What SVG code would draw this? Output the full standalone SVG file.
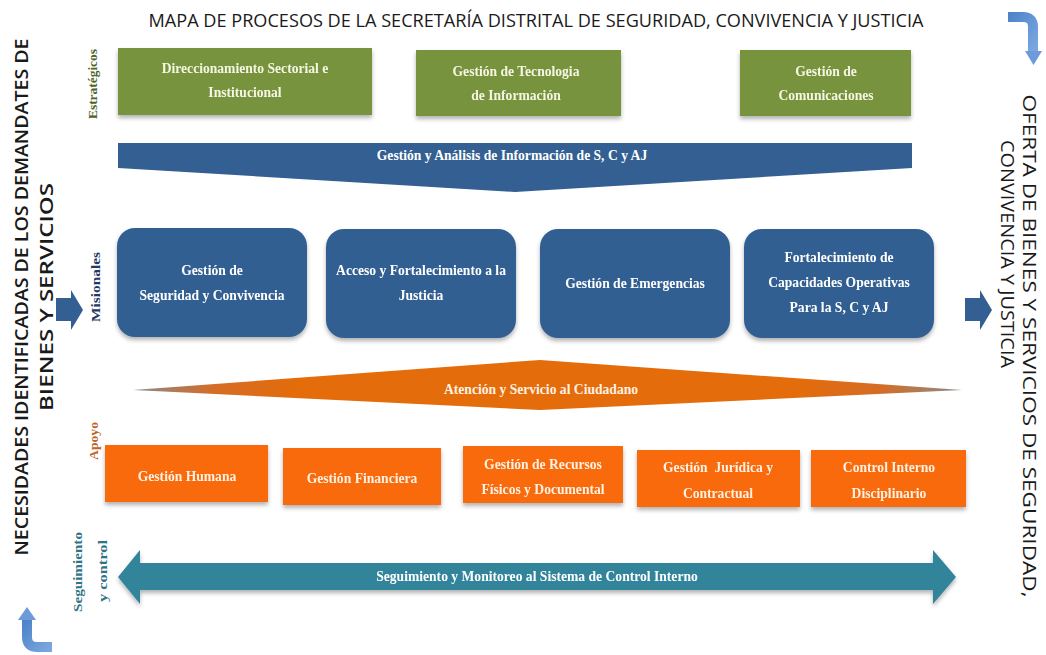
<svg xmlns="http://www.w3.org/2000/svg" width="1046" height="655" viewBox="0 0 1046 655">
  <style>
    .side { font-family: "Open Sans", "Liberation Sans", sans-serif; font-size: 18px; fill: #1a1a1a; }
    .title { font-family: "Open Sans", "Liberation Sans", sans-serif; font-size: 19px; fill: #1a1a1a; }
    .lbl { font-family: "Liberation Serif", serif; font-size: 12px; font-weight: bold; text-anchor: middle; }
    .bx { font-family: "Liberation Serif", serif; font-size: 13.6px; font-weight: bold; text-anchor: middle; }
    .w { fill: #ffffff; }
    .g { fill: #f6f6e4; }
    .o { fill: #fff1e2; }
    .green { fill: #77933c; }
    .blue { fill: #335f92; }
    .orange { fill: #f96b0f; }
    .teal { fill: #31849b; }
    .bend { fill: none; stroke: url(#bendGrad); stroke-width: 10; }
  </style>
  <defs>
    <filter id="shadow" x="-10%" y="-20%" width="120%" height="150%">
      <feDropShadow dx="0" dy="3" stdDeviation="2" flood-color="#000" flood-opacity="0.3"/>
    </filter>
    <linearGradient id="diamondGrad" x1="0" y1="0" x2="1" y2="0">
      <stop offset="0" stop-color="#8a8a8a"/>
      <stop offset="0.1" stop-color="#d56c24"/>
      <stop offset="0.2" stop-color="#e46c0a"/>
      <stop offset="0.8" stop-color="#e46c0a"/>
      <stop offset="0.9" stop-color="#d56c24"/>
      <stop offset="1" stop-color="#8a8a8a"/>
    </linearGradient>
    <linearGradient id="bendGrad" x1="0" y1="0" x2="1" y2="1">
      <stop offset="0" stop-color="#4f83c8"/>
      <stop offset="1" stop-color="#7aa7e0"/>
    </linearGradient>
  </defs>

  <!-- heading -->
  <text class="title" x="536" y="27" text-anchor="middle" textLength="775" lengthAdjust="spacingAndGlyphs">MAPA DE PROCESOS DE LA SECRETARÍA DISTRITAL DE SEGURIDAD, CONVIVENCIA Y JUSTICIA</text>

  <!-- left side: inputs -->
  <g id="entradas">
    <text class="side" font-weight="600" transform="translate(28,297) rotate(-90)" text-anchor="middle" textLength="517" lengthAdjust="spacingAndGlyphs">NECESIDADES IDENTIFICADAS DE LOS DEMANDATES DE</text>
    <text class="side" font-weight="600" transform="translate(53,297) rotate(-90)" text-anchor="middle" textLength="228" lengthAdjust="spacingAndGlyphs">BIENES Y SERVICIOS</text>
  </g>

  <!-- right side: outputs -->
  <g id="salidas">
    <text class="side" font-weight="500" transform="translate(1023,346) rotate(90)" text-anchor="middle" textLength="503" lengthAdjust="spacingAndGlyphs">OFERTA DE BIENES Y SERVICIOS  DE SEGURIDAD,</text>
    <text class="side" font-weight="500" transform="translate(1001,254) rotate(90)" text-anchor="middle" textLength="228" lengthAdjust="spacingAndGlyphs">CONVIVENCIA Y JUSTICIA</text>
  </g>

  <!-- row labels -->
  <g id="etiquetas">
    <text class="lbl" transform="translate(97,84) rotate(-90)" fill="#4f6228" textLength="70" lengthAdjust="spacingAndGlyphs">Estratégicos</text>
    <text class="lbl" transform="translate(100,287) rotate(-90)" fill="#1f3864" textLength="70" lengthAdjust="spacingAndGlyphs">Misionales</text>
    <text class="lbl" transform="translate(98,441) rotate(-90)" fill="#c0652a" font-weight="normal" textLength="38" lengthAdjust="spacingAndGlyphs">Apoyo</text>
    <text class="lbl" transform="translate(82,572) rotate(-90)" fill="#2e7486" textLength="80" lengthAdjust="spacingAndGlyphs">Seguimiento</text>
    <text class="lbl" transform="translate(107,571) rotate(-90)" fill="#2e7486" textLength="62" lengthAdjust="spacingAndGlyphs">y control</text>
  </g>

  <!-- strategic processes -->
  <g id="estrategico-1" filter="url(#shadow)">
    <rect class="green" x="118" y="48" width="254" height="67"/>
    <text class="bx g" x="245" y="73">Direccionamiento Sectorial e</text>
    <text class="bx g" x="245" y="97">Institucional</text>
  </g>
  <g id="estrategico-2" filter="url(#shadow)">
    <rect class="green" x="416" y="50" width="205" height="66"/>
    <text class="bx g" x="516" y="76">Gestión de Tecnologia</text>
    <text class="bx g" x="516" y="100">de Información</text>
  </g>
  <g id="estrategico-3" filter="url(#shadow)">
    <rect class="green" x="740" y="50" width="171" height="66"/>
    <text class="bx g" x="826" y="76">Gestión de</text>
    <text class="bx g" x="826" y="100">Comunicaciones</text>
  </g>

  <!-- information band -->
  <g id="informacion">
    <polygon class="blue" points="118,143 912,143 912,168 515,192 118,168"/>
    <text class="bx w" x="512" y="160">Gestión y Análisis de Información de S, C y AJ</text>
  </g>

  <!-- mission processes -->
  <g id="misional-1" filter="url(#shadow)">
    <rect class="blue" x="117" y="228" width="190" height="109" rx="18"/>
    <text class="bx w" x="212" y="275">Gestión de</text>
    <text class="bx w" x="212" y="300">Seguridad y Convivencia</text>
  </g>
  <g id="misional-2" filter="url(#shadow)">
    <rect class="blue" x="326" y="229" width="190" height="109" rx="18"/>
    <text class="bx w" x="421" y="275">Acceso y Fortalecimiento a la</text>
    <text class="bx w" x="421" y="300">Justicia</text>
  </g>
  <g id="misional-3" filter="url(#shadow)">
    <rect class="blue" x="540" y="229" width="190" height="109" rx="18"/>
    <text class="bx w" x="635" y="288">Gestión de Emergencias</text>
  </g>
  <g id="misional-4" filter="url(#shadow)">
    <rect class="blue" x="744" y="229" width="190" height="109" rx="18"/>
    <text class="bx w" x="839" y="262">Fortalecimiento de</text>
    <text class="bx w" x="839" y="287">Capacidades Operativas</text>
    <text class="bx w" x="839" y="312">Para la S, C y AJ</text>
  </g>

  <!-- citizen service band -->
  <g id="ciudadano">
    <polygon fill="url(#diamondGrad)" points="133,390 540,360 962,390 540,410"/>
    <text class="bx o" x="541" y="394">Atención y Servicio al Ciudadano</text>
  </g>

  <!-- support processes -->
  <g id="apoyo-1" filter="url(#shadow)">
    <rect class="orange" x="105" y="445" width="163" height="57"/>
    <text class="bx o" x="187" y="481">Gestión Humana</text>
  </g>
  <g id="apoyo-2" filter="url(#shadow)">
    <rect class="orange" x="283" y="448" width="158" height="57"/>
    <text class="bx o" x="362" y="483">Gestión Financiera</text>
  </g>
  <g id="apoyo-3" filter="url(#shadow)">
    <rect class="orange" x="463" y="446" width="160" height="57"/>
    <text class="bx o" x="543" y="469">Gestión de Recursos</text>
    <text class="bx o" x="543" y="494">Físicos y Documental</text>
  </g>
  <g id="apoyo-4" filter="url(#shadow)">
    <rect class="orange" x="637" y="450" width="163" height="57"/>
    <text class="bx o" x="718" y="472" xml:space="preserve">Gestión  Jurídica y</text>
    <text class="bx o" x="718" y="498">Contractual</text>
  </g>
  <g id="apoyo-5" filter="url(#shadow)">
    <rect class="orange" x="811" y="450" width="155" height="57"/>
    <text class="bx o" x="889" y="472">Control Interno</text>
    <text class="bx o" x="889" y="498">Disciplinario</text>
  </g>

  <!-- monitoring band -->
  <g id="seguimiento" filter="url(#shadow)">
    <polygon class="teal" points="118,577 140,550 140,563 933,563 933,550 956,577 933,604 933,590 140,590 140,604"/>
    <text class="bx w" x="537" y="581">Seguimiento y Monitoreo al Sistema de Control Interno</text>
  </g>

  <!-- flow arrows -->
  <g id="conectores">
    <polygon class="blue" points="56,298 71,298 71,290 83,310 71,330 71,321 56,321"/>
    <polygon class="blue" points="965,298 980,298 980,290 992,310 980,330 980,321 965,321"/>
    <path class="bend" d="M1008,17 H1023 Q1033,17 1033,27 V52"/>
    <polygon fill="#6d9ada" points="1025,51 1042,51 1033.5,65"/>
    <path class="bend" d="M52,647 H37 Q27,647 27,637 V619"/>
    <polygon fill="#6d9ada" points="18,620 36,620 27,607"/>
  </g>
</svg>
